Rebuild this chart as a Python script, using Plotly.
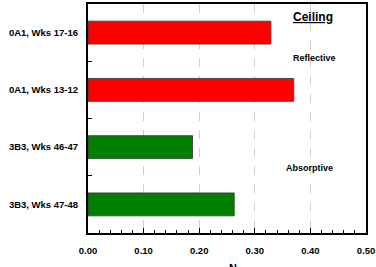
import plotly.graph_objects as go

categories = ["0A1, Wks 17-16", "0A1, Wks 13-12", "3B3, Wks 46-47", "3B3, Wks 47-48"]
values = [0.329, 0.370, 0.188, 0.263]
colors = ["#ff0000", "#ff0000", "#007f00", "#007f00"]
x_ticks = [0.0, 0.1, 0.2, 0.3, 0.4, 0.5]
x_ticklabels = ["0.00", "0.10", "0.20", "0.30", "0.40", "0.50"]
x_title = "N"

fig = go.Figure()
fig.add_trace(go.Bar(
    y=categories, x=values, orientation="h",
    marker=dict(color=colors, line=dict(color="#333333", width=0.8)),
    width=0.4,
))

font_family = "Liberation Sans, Arial, sans-serif"
fig.update_layout(
    width=376, height=267,
    margin=dict(l=88, r=10, t=4, b=34),
    paper_bgcolor="white", plot_bgcolor="white",
    showlegend=False,
    font=dict(family=font_family, color="black"),
    xaxis=dict(
        range=[0, 0.5],
        tickvals=x_ticks, ticktext=x_ticklabels,
        tickfont=dict(size=9.5, weight="bold"),
        ticks="inside", ticklen=5, tickwidth=1, tickcolor="black",
        ticklabelstandoff=8,
        minor=dict(dtick=0.02, ticks="inside", ticklen=3, tickcolor="black", showgrid=False),
        showgrid=True, gridcolor="#d0d0d0", griddash="dash", gridwidth=1,
        showline=True, linecolor="black", linewidth=2, mirror=True,
        zeroline=False,
        automargin=False,
    ),
    yaxis=dict(
        range=[3.5, -0.5],
        tickfont=dict(size=9.5, weight="bold"),
        ticks="inside", ticklen=4, tickcolor="black", tickson="boundaries",
        ticklabelstandoff=6,
        showgrid=False,
        showline=True, linecolor="black", linewidth=2, mirror=True,
        automargin=False,
    ),
    annotations=[
        dict(x=0.405, y=-0.27, xref="x", yref="y", text="<b><u>Ceiling</u></b>",
             showarrow=False, font=dict(size=12)),
        dict(x=0.407, y=0.45, xref="x", yref="y", text="<b>Reflective</b>",
             showarrow=False, font=dict(size=9)),
        dict(x=0.399, y=2.36, xref="x", yref="y", text="<b>Absorptive</b>",
             showarrow=False, font=dict(size=9)),
        dict(x=0.52, y=-0.118, xref="paper", yref="paper", text="<b>" + x_title + "</b>",
             showarrow=False, yanchor="top", font=dict(size=11)),
    ],
)

fig.write_html("out.html")
